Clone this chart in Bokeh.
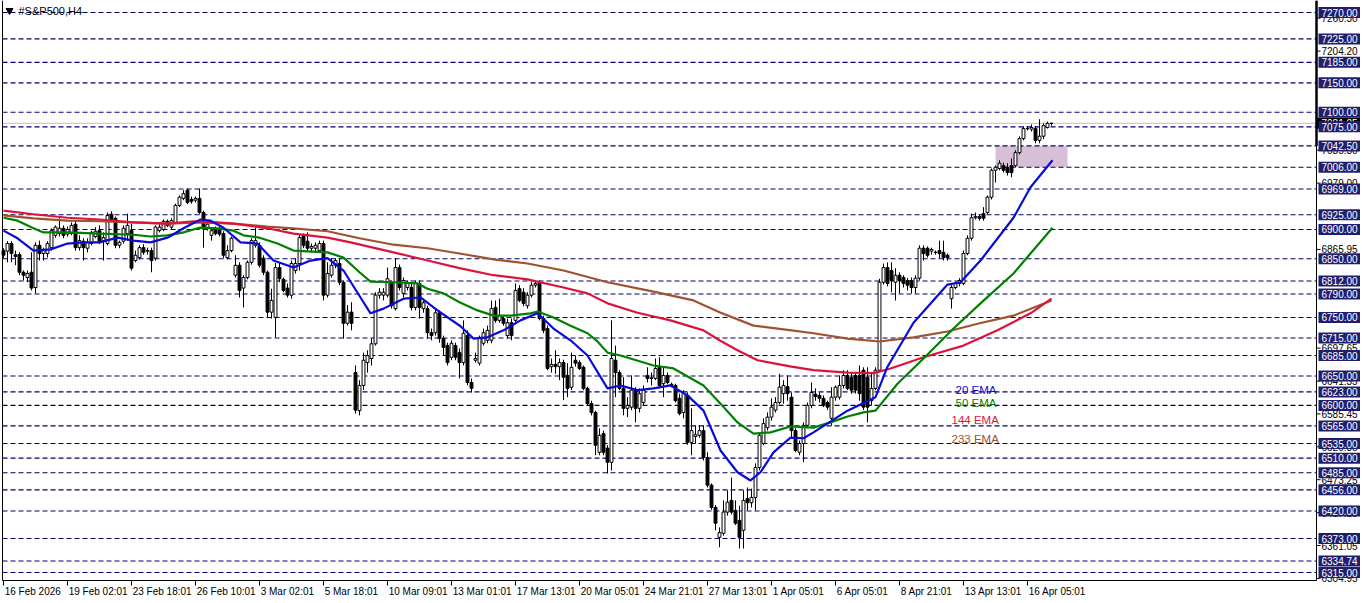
from bokeh.plotting import figure
from bokeh.models import Range1d
from bokeh.core.properties import value
from bokeh.embed import file_html
from bokeh.resources import INLINE

# ---------------- data ----------------
opens = [6864, 6863, 6876, 6857, 6857, 6827, 6818, 6827, 6801, 6873,
         6859, 6859, 6869, 6890, 6893, 6902, 6892, 6893, 6909, 6869,
         6880, 6868, 6876, 6888, 6898, 6881, 6876, 6926, 6919, 6873,
         6880, 6893, 6898, 6847, 6852, 6869, 6863, 6864, 6851, 6898,
         6900, 6914, 6904, 6912, 6941, 6953, 6967, 6951, 6950, 6953,
         6929, 6902, 6890, 6902, 6900, 6893, 6852, 6864, 6822, 6839,
         6800, 6818, 6844, 6873, 6873, 6851, 6827, 6759, 6750, 6835,
         6815, 6800, 6788, 6830, 6842, 6890, 6880, 6868, 6868, 6864,
         6876, 6788, 6822, 6839, 6842, 6810, 6740, 6759, 6656, 6591,
         6634, 6673, 6680, 6705, 6788, 6788, 6788, 6810, 6765, 6835,
         6791, 6801, 6801, 6767, 6808, 6765, 6765, 6724, 6724, 6758,
         6714, 6702, 6682, 6702, 6690, 6673, 6719, 6639, 6677, 6672,
         6706, 6711, 6711, 6767, 6745, 6748, 6719, 6741, 6745, 6799,
         6793, 6770, 6788, 6805, 6808, 6748, 6731, 6666, 6670, 6666,
         6673, 6651, 6631, 6677, 6673, 6665, 6629, 6603, 6588, 6520,
         6552, 6527, 6503, 6677, 6656, 6629, 6595, 6597, 6626, 6595,
         6605, 6651, 6646, 6646, 6665, 6637, 6651, 6636, 6634, 6612,
         6588, 6617, 6537, 6547, 6549, 6557, 6511, 6464, 6426, 6375,
         6382, 6418, 6438, 6421, 6404, 6387, 6441, 6434, 6443, 6494,
         6535, 6562, 6580, 6592, 6605, 6620, 6632, 6614, 6557, 6520,
         6535, 6566, 6600, 6619, 6617, 6612, 6605, 6578, 6614, 6614,
         6634, 6651, 6648, 6651, 6651, 6660, 6648, 6608, 6629, 6660,
         6810, 6835, 6830, 6810, 6822, 6818, 6813, 6813, 6801, 6817,
         6868, 6868, 6863, 6861, 6864, 6861, 6856, 6782, 6801, 6808,
         6808, 6859, 6885, 6920, 6922, 6927, 6929, 6955, 7001, 7004,
         7009, 7006, 7009, 7009, 7031, 7055, 7072, 7071, 7072, 7052,
         7059, 7074, 7081]
highs = [6868, 6880, 6880, 6864, 6861, 6830, 6830, 6861, 6878, 6881,
         6869, 6880, 6902, 6907, 6919, 6907, 6905, 6912, 6915, 6890,
         6885, 6885, 6898, 6904, 6907, 6895, 6929, 6931, 6922, 6881,
         6907, 6927, 6910, 6864, 6873, 6875, 6869, 6869, 6907, 6912,
         6917, 6917, 6919, 6944, 6958, 6967, 6970, 6956, 6956, 6970,
         6932, 6915, 6902, 6905, 6905, 6897, 6873, 6888, 6856, 6844,
         6822, 6847, 6885, 6903, 6878, 6856, 6830, 6799, 6843, 6843,
         6818, 6808, 6847, 6851, 6891, 6893, 6895, 6876, 6878, 6881,
         6881, 6844, 6851, 6851, 6851, 6813, 6771, 6776, 6668, 6643,
         6690, 6694, 6714, 6793, 6800, 6800, 6835, 6813, 6851, 6840,
         6818, 6813, 6808, 6813, 6813, 6782, 6770, 6731, 6765, 6762,
         6719, 6707, 6711, 6707, 6697, 6745, 6728, 6646, 6690, 6719,
         6731, 6736, 6779, 6779, 6782, 6753, 6748, 6748, 6808, 6805,
         6800, 6793, 6810, 6813, 6813, 6753, 6736, 6680, 6694, 6680,
         6678, 6672, 6690, 6685, 6677, 6668, 6632, 6608, 6591, 6561,
         6557, 6532, 6745, 6702, 6660, 6648, 6614, 6651, 6631, 6629,
         6634, 6665, 6656, 6680, 6682, 6665, 6656, 6639, 6637, 6620,
         6626, 6622, 6595, 6566, 6566, 6566, 6520, 6467, 6430, 6392,
         6438, 6455, 6477, 6438, 6429, 6455, 6460, 6458, 6501, 6554,
         6578, 6588, 6612, 6614, 6654, 6643, 6651, 6622, 6561, 6540,
         6571, 6605, 6639, 6629, 6622, 6617, 6608, 6631, 6634, 6651,
         6660, 6660, 6656, 6656, 6668, 6665, 6665, 6654, 6665, 6816,
         6842, 6844, 6844, 6834, 6827, 6822, 6817, 6818, 6822, 6873,
         6873, 6871, 6869, 6864, 6881, 6881, 6859, 6805, 6811, 6817,
         6864, 6890, 6927, 6929, 6926, 6938, 6958, 7004, 7009, 7018,
         7014, 7013, 7021, 7035, 7059, 7076, 7076, 7079, 7076, 7088,
         7081, 7084, 7082]
lows = [6851, 6844, 6844, 6839, 6822, 6813, 6810, 6796, 6791, 6847,
        6847, 6852, 6864, 6886, 6888, 6885, 6888, 6890, 6864, 6864,
        6847, 6861, 6873, 6885, 6875, 6847, 6873, 6912, 6868, 6868,
        6876, 6881, 6830, 6844, 6849, 6857, 6857, 6827, 6847, 6895,
        6897, 6904, 6900, 6909, 6938, 6950, 6943, 6944, 6946, 6926,
        6869, 6898, 6881, 6890, 6888, 6851, 6849, 6861, 6818, 6784,
        6767, 6815, 6840, 6869, 6835, 6822, 6750, 6748, 6716, 6810,
        6793, 6784, 6782, 6825, 6830, 6868, 6864, 6861, 6863, 6861,
        6779, 6784, 6818, 6834, 6805, 6714, 6736, 6728, 6586, 6583,
        6626, 6656, 6668, 6702, 6782, 6779, 6784, 6765, 6762, 6796,
        6784, 6796, 6762, 6762, 6748, 6758, 6714, 6711, 6719, 6707,
        6685, 6668, 6677, 6677, 6646, 6668, 6634, 6622, 6673, 6668,
        6702, 6706, 6706, 6741, 6741, 6736, 6714, 6711, 6741, 6776,
        6769, 6765, 6784, 6801, 6745, 6723, 6660, 6656, 6654, 6643,
        6609, 6614, 6626, 6666, 6660, 6626, 6600, 6583, 6515, 6515,
        6515, 6484, 6489, 6614, 6626, 6583, 6580, 6592, 6571, 6588,
        6600, 6639, 6634, 6643, 6629, 6614, 6636, 6631, 6605, 6583,
        6578, 6533, 6515, 6535, 6545, 6506, 6460, 6422, 6387, 6358,
        6378, 6412, 6414, 6396, 6356, 6356, 6421, 6426, 6421, 6489,
        6532, 6557, 6574, 6588, 6602, 6603, 6608, 6544, 6520, 6515,
        6503, 6561, 6595, 6608, 6605, 6597, 6592, 6566, 6608, 6610,
        6629, 6626, 6620, 6620, 6608, 6592, 6571, 6600, 6626, 6656,
        6806, 6803, 6793, 6779, 6791, 6801, 6796, 6791, 6791, 6813,
        6847, 6852, 6857, 6857, 6851, 6847, 6847, 6765, 6798, 6803,
        6805, 6856, 6881, 6917, 6915, 6915, 6926, 6951, 6980, 7001,
        6997, 6992, 6989, 7006, 7028, 7052, 7069, 7067, 7047, 7047,
        7054, 7072, 7077]
closes = [6856, 6876, 6859, 6854, 6827, 6822, 6825, 6800, 6873, 6859,
          6864, 6876, 6898, 6904, 6902, 6890, 6900, 6907, 6869, 6881,
          6869, 6878, 6895, 6897, 6878, 6886, 6924, 6917, 6873, 6878,
          6902, 6907, 6834, 6856, 6869, 6861, 6864, 6847, 6904, 6904,
          6914, 6907, 6915, 6941, 6955, 6961, 6946, 6948, 6953, 6929,
          6902, 6909, 6898, 6893, 6892, 6856, 6864, 6885, 6839, 6796,
          6818, 6844, 6881, 6881, 6839, 6827, 6759, 6779, 6835, 6816,
          6796, 6788, 6842, 6842, 6886, 6873, 6868, 6871, 6873, 6876,
          6788, 6825, 6839, 6847, 6810, 6740, 6759, 6740, 6592, 6634,
          6677, 6685, 6705, 6788, 6793, 6793, 6816, 6770, 6835, 6801,
          6813, 6808, 6767, 6808, 6767, 6775, 6724, 6719, 6758, 6714,
          6699, 6673, 6706, 6682, 6673, 6723, 6639, 6629, 6680, 6716,
          6724, 6728, 6765, 6745, 6753, 6740, 6741, 6719, 6796, 6779,
          6774, 6788, 6805, 6808, 6748, 6728, 6663, 6670, 6666, 6673,
          6648, 6629, 6665, 6672, 6663, 6629, 6603, 6588, 6532, 6549,
          6520, 6503, 6680, 6656, 6629, 6595, 6600, 6626, 6595, 6620,
          6626, 6646, 6647, 6663, 6634, 6651, 6639, 6634, 6608, 6586,
          6620, 6537, 6557, 6550, 6557, 6511, 6464, 6426, 6399, 6383,
          6418, 6435, 6418, 6399, 6375, 6438, 6434, 6443, 6494, 6549,
          6569, 6580, 6597, 6605, 6631, 6634, 6620, 6557, 6523, 6535,
          6566, 6600, 6622, 6615, 6612, 6600, 6597, 6614, 6631, 6634,
          6651, 6629, 6626, 6626, 6620, 6597, 6597, 6629, 6660, 6810,
          6835, 6808, 6813, 6822, 6813, 6808, 6805, 6801, 6817, 6868,
          6859, 6856, 6866, 6861, 6859, 6852, 6852, 6801, 6808, 6813,
          6859, 6885, 6920, 6922, 6919, 6919, 6955, 7001, 7006, 7013,
          7001, 6997, 6997, 7031, 7055, 7072, 7072, 7074, 7052, 7059,
          7077, 7081, 7081]

tick_labels = ["16 Feb 2026", "19 Feb 02:01", "23 Feb 18:01", "26 Feb 10:01",
               "3 Mar 02:01", "5 Mar 18:01", "10 Mar 09:01", "13 Mar 01:01",
               "17 Mar 13:01", "20 Mar 05:01", "24 Mar 21:01", "27 Mar 13:01",
               "1 Apr 05:01", "6 Apr 05:01", "8 Apr 21:01", "13 Apr 13:01",
               "16 Apr 05:01"]
tick_bars = [0, 16, 32, 48, 64, 80, 96, 112, 128, 144, 160, 176, 192, 208,
             224, 240, 256]

hline_levels = [7270, 7225, 7185, 7150, 7100, 7075, 7042.5, 7006, 6969, 6925,
                6900, 6850, 6812, 6790, 6750, 6715, 6685, 6650, 6623, 6600,
                6565, 6535, 6510, 6485, 6456, 6420, 6373, 6334.74, 6315]
scale_ticks = [7260.30, 7204.20, 7035.30, 6979.00, 6865.95, 6697.65, 6641.35,
               6585.45, 6529.35, 6473.25, 6417.15, 6361.05, 6304.95]
current_price = 7081.05

zone_bars = [248, 266]
zone_prices = [7006.0, 7042.5]

ema20_bars = [0, 3.5, 7.5, 11.75, 16, 20, 24, 28.5, 32.5, 36.75, 41, 45, 49.25,
              51.75, 55, 59.25, 63.5, 67.5, 72.5, 76.75, 81, 85, 89.25, 91.75,
              95, 100, 104.25, 108.5, 114.25, 117.5, 121, 125, 129.25, 133.5,
              137.5, 141.75, 146, 151, 154.25, 158.5, 162.5, 166.75, 171, 175,
              179.25, 183.5, 186.75, 189.25, 192.5, 196.75, 200, 202.5, 211,
              218, 221, 227.5, 236, 239.25, 244.25, 252.5, 256.75, 262.25]
ema20_vals = [6898, 6885, 6864, 6866, 6876, 6878, 6878, 6886, 6881, 6878, 6886,
              6902, 6917, 6915, 6903, 6878, 6876, 6847, 6835, 6847, 6851, 6830,
              6784, 6757, 6765, 6782, 6784, 6762, 6735, 6714, 6716, 6728, 6745,
              6757, 6731, 6711, 6685, 6629, 6634, 6626, 6629, 6634, 6617, 6591,
              6523, 6486, 6472, 6486, 6520, 6545, 6544, 6554, 6591, 6614, 6666,
              6741, 6806, 6810, 6847, 6920, 6972, 7018]

ema50_bars = [0, 3.5, 7.5, 10, 16, 24, 32.5, 36.75, 41, 45, 49, 53.5, 57.5, 60,
              64, 68.5, 72.5, 81, 85, 89, 91.75, 97.5, 103.5, 106, 110, 114,
              118.5, 122.5, 126.75, 131.75, 133.5, 137.5, 141.75, 146, 148.5,
              151, 154.25, 162.5, 167.5, 175, 179.25, 183.5, 187.5, 191.75,
              196.75, 202.5, 206.75, 211, 215, 218, 223.5, 230, 237.5, 244.25,
              252.5, 262.25]
ema50_vals = [6920, 6915, 6902, 6895, 6895, 6893, 6891, 6888, 6890, 6895, 6903,
              6902, 6898, 6890, 6886, 6876, 6864, 6861, 6852, 6827, 6811, 6810,
              6808, 6799, 6791, 6776, 6762, 6753, 6753, 6757, 6760, 6750, 6736,
              6723, 6709, 6690, 6685, 6668, 6663, 6634, 6603, 6571, 6552, 6554,
              6564, 6562, 6571, 6581, 6588, 6591, 6637, 6680, 6731, 6774, 6825,
              6903]

ema144_bars = [0, 7.5, 16, 24, 32.5, 41, 47.5, 53.5, 57.5, 66, 72.5, 81, 86.75,
               97.5, 106, 114, 122.5, 131, 140, 146, 151, 158.5, 166.75, 175,
               179, 183.5, 188.5, 197, 202.5, 211, 217.5, 221.75, 230, 240,
               248.5, 256.75, 262]
ema144_vals = [6932, 6926, 6920, 6917, 6912, 6910, 6914, 6912, 6910, 6902, 6893,
               6886, 6878, 6861, 6847, 6834, 6822, 6815, 6801, 6791, 6774, 6758,
               6745, 6728, 6711, 6694, 6677, 6666, 6660, 6656, 6655, 6663, 6682,
               6702, 6728, 6757, 6782]

ema233_bars = [0, 7.5, 16, 24, 32.5, 41, 49, 57.5, 66, 72.5, 81, 89, 97.5, 106,
               114, 122.5, 131, 140, 151, 162.5, 172.5, 179, 187.5, 197, 202.5,
               211, 219, 227.5, 236, 244, 252.5, 262]
ema233_vals = [6924, 6919, 6915, 6914, 6912, 6910, 6912, 6910, 6905, 6902, 6897,
               6885, 6874, 6868, 6859, 6849, 6842, 6830, 6810, 6794, 6779, 6759,
               6736, 6728, 6723, 6714, 6709, 6716, 6726, 6740, 6753, 6779]

ema_names = ["20 EMA", "50 EMA", "144 EMA", "233 EMA"]
ema_colors = ["#0A0AD8", "#008000", "#DC143C", "#A0522D"]

# ---------------- layout helpers (reference pixel -> data) ----------------
W, H = 1360, 600


def bx(rx):
    return (rx - 3.0) / 4.0


def py(ry):
    return 7270.0 - (ry - 12.0) / 0.5864


PX = 1.0 / 0.5864  # price units per pixel
FONT = value("Liberation Sans")
AXIS_FS = value("10px")

p = figure(width=W, height=H, x_range=Range1d(bx(0), bx(W)),
           y_range=Range1d(py(H), py(0)), output_backend="svg",
           toolbar_location=None, x_axis_location=None, y_axis_location=None,
           min_border=0, outline_line_color=None)
p.title.visible = False
p.grid.visible = False
p.background_fill_color = "white"
p.border_fill_color = "white"

left_x = bx(2)
axis_x = bx(1316)

# zone rectangle
p.quad(left=[zone_bars[0]], right=[zone_bars[1]], bottom=[zone_prices[0]],
       top=[zone_prices[1]], fill_color="#D8BFD8", line_color=None)

# bid line
p.segment(x0=[left_x], x1=[axis_x], y0=[current_price], y1=[current_price],
          line_color="#C0C0C0", line_width=1)

# horizontal level lines
p.segment(x0=[left_x] * len(hline_levels), x1=[axis_x] * len(hline_levels),
          y0=hline_levels, y1=hline_levels, line_color="#000066",
          line_width=1.1, line_dash="5 3")

# candles
idx = list(range(len(closes)))
p.segment(x0=idx, x1=idx, y0=lows, y1=highs, line_color="black", line_width=1)
up_x = [i for i in idx if closes[i] >= opens[i]]
dn_x = [i for i in idx if closes[i] < opens[i]]
p.vbar(x=up_x, width=0.72, top=[closes[i] for i in up_x],
       bottom=[opens[i] for i in up_x], fill_color="white", line_color="black",
       line_width=1)
p.vbar(x=dn_x, width=0.72, top=[opens[i] for i in dn_x],
       bottom=[closes[i] for i in dn_x], fill_color="black", line_color="black",
       line_width=1)

# EMAs
p.line(ema233_bars, ema233_vals, line_color=ema_colors[3], line_width=2.2)
p.line(ema144_bars, ema144_vals, line_color=ema_colors[2], line_width=2.2)
p.line(ema50_bars, ema50_vals, line_color=ema_colors[1], line_width=2.2)
p.line(ema20_bars, ema20_vals, line_color=ema_colors[0], line_width=2.2)

# EMA legend texts
lab_x = [bx(955), bx(955), bx(951), bx(951)]
lab_y = [py(389), py(402), py(419), py(438)]
for i in range(4):
    p.text(x=[lab_x[i]], y=[lab_y[i]], text=[ema_names[i]], text_font=FONT,
           text_font_size=value("11.5px"), text_color=ema_colors[i],
           text_align="left", text_baseline="middle")

# title
p.scatter(x=[bx(9)], y=[py(10)], marker="inverted_triangle", size=7,
          color="black")
p.text(x=[bx(18)], y=[py(10)], text=["#S&P500,H4"], text_font=FONT,
       text_font_size=value("11px"), text_color="black", text_align="left",
       text_baseline="middle")

# frame lines
p.segment(x0=[left_x], x1=[left_x], y0=[py(0)], y1=[py(580)],
          line_color="black", line_width=1)
p.segment(x0=[left_x], x1=[axis_x], y0=[py(580)], y1=[py(580)],
          line_color="black", line_width=1)
p.segment(x0=[axis_x], x1=[axis_x], y0=[py(0)], y1=[py(580)],
          line_color="black", line_width=1)
p.segment(x0=[axis_x], x1=[axis_x], y0=[py(0)], y1=[7042.5],
          line_color="black", line_width=2.5)

# auto scale ticks of the price axis
p.segment(x0=[axis_x] * len(scale_ticks), x1=[bx(1320)] * len(scale_ticks),
          y0=scale_ticks, y1=scale_ticks, line_color="black", line_width=1)
p.text(x=[bx(1321)] * len(scale_ticks), y=scale_ticks,
       text=["%.2f" % v for v in scale_ticks], text_font=FONT,
       text_font_size=AXIS_FS, text_color="black", text_align="left",
       text_baseline="middle")

# current price box (mostly hidden)
hh = 5.5 * PX
p.quad(left=[bx(1316)], right=[bx(W)], bottom=[current_price - hh],
       top=[current_price + hh], fill_color="black", line_color=None)
p.text(x=[bx(1321)], y=[current_price], text=["%.2f" % current_price],
       text_font=FONT, text_font_size=AXIS_FS, text_color="white",
       text_align="left", text_baseline="middle")

# level labels (navy boxes)
n = len(hline_levels)
p.quad(left=[bx(1318)] * n, right=[bx(W)] * n,
       bottom=[v - hh for v in hline_levels], top=[v + hh for v in hline_levels],
       fill_color="#1F1F6E", line_color=None)
p.text(x=[bx(1321)] * n, y=hline_levels,
       text=["%.2f" % v for v in hline_levels], text_font=FONT,
       text_font_size=AXIS_FS, text_color="white", text_align="left",
       text_baseline="middle")

# date axis
m = len(tick_bars)
p.segment(x0=tick_bars, x1=tick_bars, y0=[py(580)] * m, y1=[py(585)] * m,
          line_color="black", line_width=1)
p.text(x=[b + 0.3 for b in tick_bars], y=[py(591)] * m, text=tick_labels,
       text_font=FONT, text_font_size=AXIS_FS, text_color="black",
       text_align="left", text_baseline="middle")

open("out.html", "w").write(file_html(p, INLINE))
